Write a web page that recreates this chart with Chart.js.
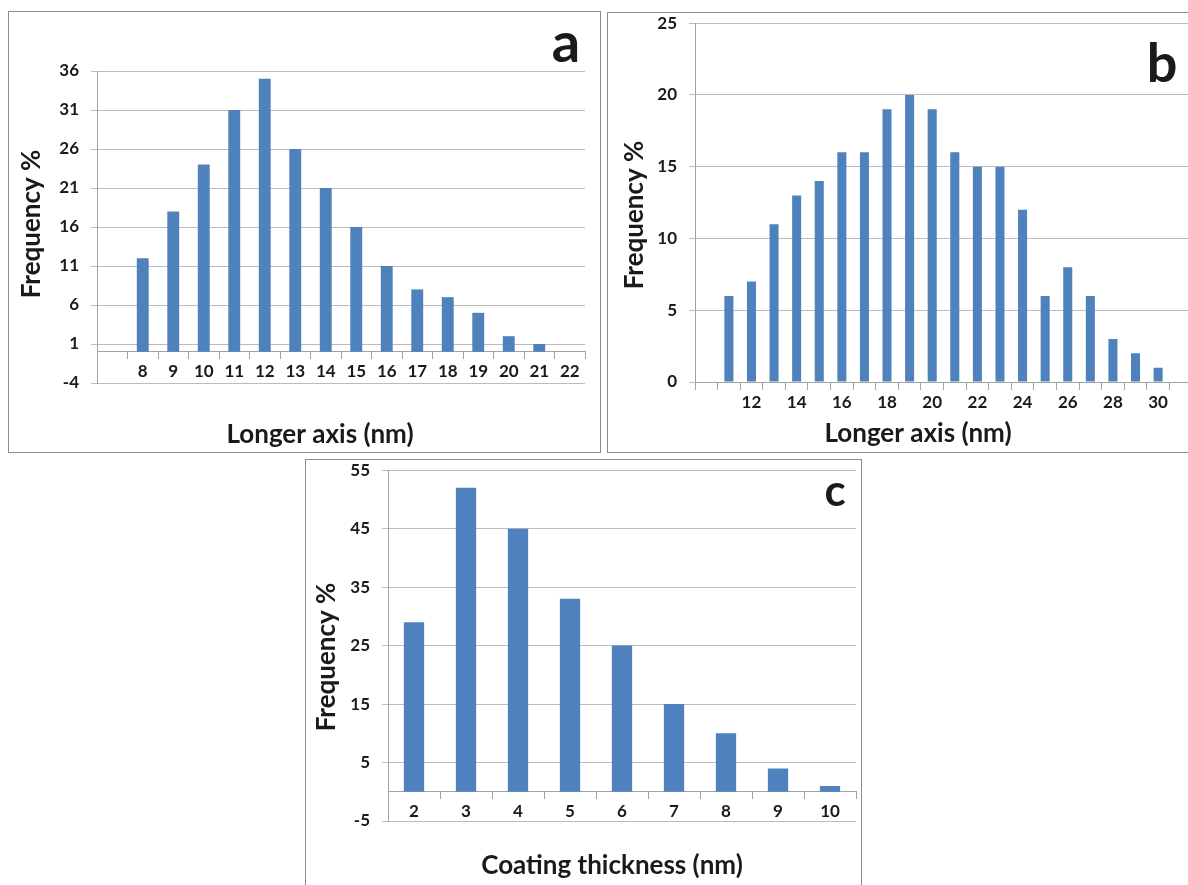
<!DOCTYPE html>
<html>
<head>
<meta charset="utf-8">
<script src="https://cdn.jsdelivr.net/npm/chart.js@4/dist/chart.umd.min.js"></script>
<style>
  html, body { margin: 0; padding: 0; background: #fff; width: 1188px; height: 885px; overflow: hidden; }
  .panel { position: absolute; border: 1px solid #8c8c8c; box-sizing: border-box; background: #fff; }
  canvas { position: absolute; }
</style>
</head>
<body>
<div class="panel" style="left:8px;top:11px;width:593px;height:442px;"></div>
<div class="panel" style="left:607px;top:12px;width:620px;height:441px;"></div>
<div class="panel" style="left:305px;top:459px;width:557px;height:460px;"></div>
<canvas id="ca" width="591" height="440" style="left:9px;top:12px;"></canvas>
<canvas id="cb" width="600" height="451" style="left:608px;top:1px;"></canvas>
<canvas id="cc" width="555" height="442" style="left:306px;top:448px;"></canvas>
<script>
// ---------- Data ----------
// Panel a: longer axis (nm)
const categoriesA = ['', '8', '9', '10', '11', '12', '13', '14', '15', '16', '17', '18', '19', '20', '21', '22'];
const valuesA     = [null, 12, 18, 24, 31, 35, 26, 21, 16, 11, 8, 7, 5, 2, 1, 0];
const yTicksA     = [-4, 1, 6, 11, 16, 21, 26, 31, 36];

// Panel b: longer axis (nm)
const categoriesB = ['', '11', '12', '13', '14', '15', '16', '17', '18', '19', '20', '21', '22', '23', '24', '25', '26', '27', '28', '29', '30', ''];
const valuesB     = [null, 6, 7, 11, 13, 14, 16, 16, 19, 20, 19, 16, 15, 15, 12, 6, 8, 6, 3, 2, 1, null];
const yTicksB     = [0, 5, 10, 15, 20, 25];
const shownLabelsB = ['12', '14', '16', '18', '20', '22', '24', '26', '28', '30'];

// Panel c: coating thickness (nm)
const categoriesC = ['2', '3', '4', '5', '6', '7', '8', '9', '10'];
const valuesC     = [29, 52, 45, 33, 25, 15, 10, 4, 1];
const yTicksC     = [-5, 5, 15, 25, 35, 45, 55];

// ---------- Styling ----------
const BAR = '#4f81bd';
const GRID = '#bcbcbc';
const AXIS = '#a3a3a3';
const TXT = '#1a1a1a';
const FONT = 'Lato';

const textPlugin = {
  id: 'panelText',
  afterDraw(chart, args, opts) {
    const ctx = chart.ctx;
    (opts.items || []).forEach(it => {
      ctx.save();
      ctx.font = it.font;
      ctx.fillStyle = TXT;
      ctx.textAlign = 'center';
      ctx.textBaseline = it.baseline || 'middle';
      ctx.translate(it.x, it.y);
      if (it.rotate) ctx.rotate(it.rotate);
      ctx.fillText(it.text, 0, 0);
      ctx.restore();
    });
  }
};

function makeChart(id, cats, vals, yTicks, opt) {
  return new Chart(document.getElementById(id), {
    type: 'bar',
    data: {
      labels: cats,
      datasets: [{ data: vals, backgroundColor: BAR, borderWidth: 0,
                   categoryPercentage: 1.0, barPercentage: opt.barPct }]
    },
    options: {
      responsive: false,
      animation: false,
      layout: { padding: opt.padding },
      plugins: {
        legend: { display: false },
        tooltip: { enabled: false },
        panelText: { items: opt.texts }
      },
      scales: {
        x: {
          position: { y: 0 },
          offset: true,
          grid: { display: true, drawOnChartArea: false, drawTicks: true, tickLength: 7, color: AXIS, offset: true },
          border: { display: true, color: AXIS, width: 1 },
          ticks: {
            autoSkip: false, maxRotation: 0, padding: 3,
            color: TXT, font: { family: FONT, size: 17, weight: 'bold' },
            callback: function(v, i) {
              const l = this.getLabelForValue(v);
              return opt.labelFilter ? (opt.labelFilter.includes(l) ? l : '') : l;
            }
          }
        },
        y: {
          min: yTicks[0], max: yTicks[yTicks.length - 1],
          afterBuildTicks: s => { s.ticks = yTicks.map(v => ({ value: v })); },
          afterFit: s => { s.width = opt.yWidth; },
          grid: { color: GRID, lineWidth: 1, tickLength: 6, drawTicks: true },
          border: { display: true, color: AXIS, width: 1 },
          ticks: { padding: 12, color: TXT, font: { family: FONT, size: 17, weight: 'bold' } }
        }
      }
    },
    plugins: [textPlugin]
  });
}

const titleFont = 'bold 26px ' + FONT;

makeChart('ca', categoriesA, valuesA, yTicksA, {
  barPct: 0.39, yWidth: 88,
  padding: { top: 59, right: 15, bottom: 69, left: 0 },
  texts: [
    { text: 'Frequency %', x: 23, y: 212, rotate: -Math.PI / 2, font: titleFont },
    { text: 'Longer axis (nm)', x: 311, y: 423, font: titleFont },
    { text: 'a', x: 557, y: 50, baseline: 'alphabetic', font: 'bold 56px ' + FONT }
  ]
});

makeChart('cb', categoriesB, valuesB, yTicksB, {
  barPct: 0.4, yWidth: 87,
  padding: { top: 22, right: 16, bottom: 70, left: 0 },
  labelFilter: shownLabelsB,
  texts: [
    { text: 'Frequency %', x: 27, y: 214, rotate: -Math.PI / 2, font: titleFont },
    { text: 'Longer axis (nm)', x: 310, y: 433, font: titleFont },
    { text: 'b', x: 554, y: 81, baseline: 'alphabetic', font: 'bold 54px ' + FONT }
  ]
});

makeChart('cc', categoriesC, valuesC, yTicksC, {
  barPct: 0.39, yWidth: 82,
  padding: { top: 22, right: 5, bottom: 69, left: 0 },
  texts: [
    { text: 'Frequency %', x: 21, y: 209, rotate: -Math.PI / 2, font: titleFont },
    { text: 'Coating thickness (nm)', x: 306, y: 418, font: titleFont },
    { text: 'c', x: 529, y: 58, baseline: 'alphabetic', font: 'bold 44px ' + FONT }
  ]
});
</script>
</body>
</html>
